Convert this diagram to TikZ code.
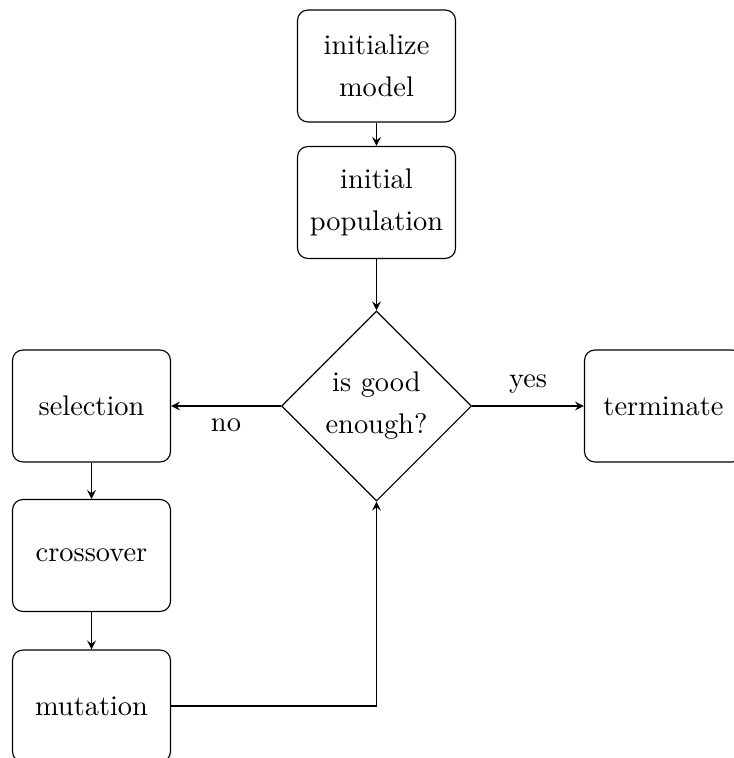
\documentclass[tikz,border=0pt]{standalone}
\usetikzlibrary{shapes.geometric,arrows}
\begin{document}
\begin{tikzpicture}[x=0.352pt,y=-0.352pt,
  every node/.style={font=\fontsize{10}{14.8}\selectfont},
  stepbox/.style={draw,rounded corners=3.6pt,align=center,
    minimum width=55.6pt,minimum height=39.4pt,inner sep=2pt},
  decision/.style={draw,diamond,aspect=1,align=center,
    minimum width=66.9pt,minimum height=66.9pt,inner sep=0pt},
  flow/.style={-stealth,line width=0.4pt}]
\useasboundingbox (0,0) rectangle (733,758);
\node[stepbox] (init) at (376.5,66) {initialize\\model};
\node[stepbox] (pop) at (376.5,202.5) {initial\\population};
\node[decision] (dec) at (376.5,406) {is good\\enough?};
\node[stepbox] (sel) at (91.5,406) {selection};
\node[stepbox] (cross) at (91.5,555.5) {crossover};
\node[stepbox] (mut) at (91.5,706) {mutation};
\node[stepbox] (term) at (663.5,406) {terminate};
\draw[flow] (init) -- (pop);
\draw[flow] (pop) -- (dec);
\draw[flow] (dec) -- node[below,yshift=-1pt] {no} (sel);
\draw[flow] (dec) -- node[above,yshift=1pt] {yes} (term);
\draw[flow] (sel) -- (cross);
\draw[flow] (cross) -- (mut);
\draw[flow] (mut.east) -| (dec.south);
\end{tikzpicture}
\end{document}
